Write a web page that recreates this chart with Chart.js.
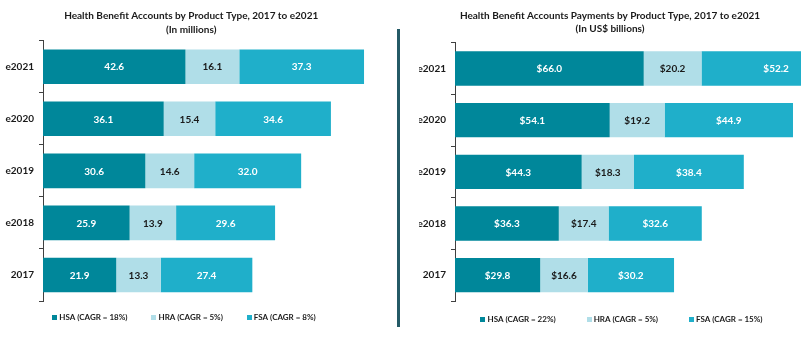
<!DOCTYPE html>
<html><head><meta charset="utf-8">
<script src="https://cdn.jsdelivr.net/npm/chart.js@4.4.0/dist/chart.umd.min.js"></script>
<style>
html,body{margin:0;padding:0;width:801px;height:349px;overflow:hidden;background:#fff;}
#w1{position:absolute;left:0;top:0;width:396px;height:349px;}
#w2{position:absolute;left:400px;top:0;width:401px;height:349px;}
#divider{position:absolute;left:397px;top:29px;width:3px;height:298px;background:#245a66;}
</style></head><body>
<div id="w1"><canvas id="c1"></canvas></div>
<div id="divider"></div>
<div id="w2"><canvas id="c2"></canvas></div>
<script>
const categories = ['e2021','e2020','e2019','e2018','2017'];
const hsaAccounts = [42.6, 36.1, 30.6, 25.9, 21.9];
const hraAccounts = [16.1, 15.4, 14.6, 13.9, 13.3];
const fsaAccounts = [37.3, 34.6, 32.0, 29.6, 27.4];
const hsaPayments = [66.0, 54.1, 44.3, 36.3, 29.8];
const hraPayments = [20.2, 19.2, 18.3, 17.4, 16.6];
const fsaPayments = [52.2, 44.9, 38.4, 32.6, 30.2];
const accountLegend = ['HSA (CAGR = 18%)','HRA (CAGR = 5%)','FSA (CAGR = 8%)'];
const paymentLegend = ['HSA (CAGR = 22%)','HRA (CAGR = 5%)','FSA (CAGR = 15%)'];
const accountTitle = ['Health Benefit Accounts by Product Type, 2017 to e2021','(In millions)'];
const paymentTitle = ['Health Benefit Accounts Payments by Product Type, 2017 to e2021','(In US$ billions)'];

const HSA_COLOR = '#00879a';
const HRA_COLOR = '#b0dee8';
const FSA_COLOR = '#1fafca';
const TEXT = '#1a1a1a';
const FONT = 'Lato';

function valueLabels(prefix){
  return {
    id:'valueLabels',
    afterDatasetsDraw(chart){
      const ctx = chart.ctx;
      ctx.save();
      ctx.font = 'bold 10px ' + FONT;
      ctx.textAlign = 'center';
      ctx.textBaseline = 'middle';
      chart.data.datasets.forEach((ds,i)=>{
        const meta = chart.getDatasetMeta(i);
        meta.data.forEach((el,j)=>{
          ctx.fillStyle = ds.labelColor;
          ctx.fillText(prefix + ds.data[j].toFixed(1), (el.x + el.base)/2, el.y + 0.5);
        });
      });
      ctx.restore();
    }
  };
}

function bottomLegend(labels, centerX, y, gap){
  return {
    id:'bottomLegend',
    afterDraw(chart){
      const ctx = chart.ctx;
      ctx.save();
      ctx.font = 'bold 8px ' + FONT;
      const box = 5, boxGap = 2;
      const items = labels.map((t,i)=>({t, w:ctx.measureText(t).width, c:chart.data.datasets[i].backgroundColor}));
      const total = items.reduce((s,it)=>s+box+boxGap+it.w,0) + gap*(items.length-1);
      let x = centerX - total/2;
      ctx.textAlign = 'left';
      ctx.textBaseline = 'middle';
      items.forEach(it=>{
        ctx.fillStyle = it.c;
        ctx.fillRect(Math.round(x), Math.round(y - box/2), box, box);
        ctx.fillStyle = TEXT;
        ctx.fillText(it.t, x + box + boxGap, y + 0.5);
        x += box + boxGap + it.w + gap;
      });
      ctx.restore();
    }
  };
}

function makeChart(id, cfg){
  return new Chart(document.getElementById(id), {
    type:'bar',
    data:{
      labels: categories,
      datasets:[
        {label:cfg.legend[0], data:cfg.hsa, backgroundColor:HSA_COLOR, labelColor:'#ffffff'},
        {label:cfg.legend[1], data:cfg.hra, backgroundColor:HRA_COLOR, labelColor:TEXT},
        {label:cfg.legend[2], data:cfg.fsa, backgroundColor:FSA_COLOR, labelColor:'#ffffff'}
      ]
    },
    options:{
      indexAxis:'y',
      responsive:true,
      maintainAspectRatio:false,
      animation:false,
      layout:{padding:{left:cfg.padL, right:cfg.padR, top:0, bottom:48}},
      datasets:{bar:{categoryPercentage:1, barPercentage:0.665, borderWidth:0}},
      scales:{
        x:{stacked:true, display:false, min:0, max:cfg.max},
        y:{
          stacked:true,
          grid:{display:true, drawOnChartArea:false, drawTicks:true, tickLength:4, color:'#404040', offset:true},
          border:{display:true, color:'#404040', width:1},
          ticks:{color:TEXT, font:{family:FONT, weight:'bold', size:10}, padding:5},
          afterFit(s){ s.width = cfg.axisW; }
        }
      },
      plugins:{
        legend:{display:false},
        tooltip:{enabled:false},
        title:{display:true, text:cfg.title, color:TEXT,
          font:{family:FONT, weight:'bold', size:10, lineHeight:cfg.lh},
          padding:{top:cfg.tpt, bottom:cfg.tpb}}
      }
    },
    plugins:[valueLabels(cfg.prefix), bottomLegend(cfg.legend, cfg.legX, cfg.legY, cfg.legGap)]
  });
}

makeChart('c1', {
  hsa:hsaAccounts, hra:hraAccounts, fsa:fsaAccounts, legend:accountLegend, title:accountTitle,
  padL:5, axisW:38, padR:18.6, max:100, lh:1.37, tpt:9.4, tpb:3.9, prefix:'',
  legX:184, legY:317, legGap:24
});
makeChart('c2', {
  hsa:hsaPayments, hra:hraPayments, fsa:fsaPayments, legend:paymentLegend, title:paymentTitle,
  padL:19, axisW:36, padR:0, max:121, lh:1.28, tpt:9.1, tpb:8, prefix:'$',
  legX:221.5, legY:319, legGap:31
});
</script>
</body></html>
